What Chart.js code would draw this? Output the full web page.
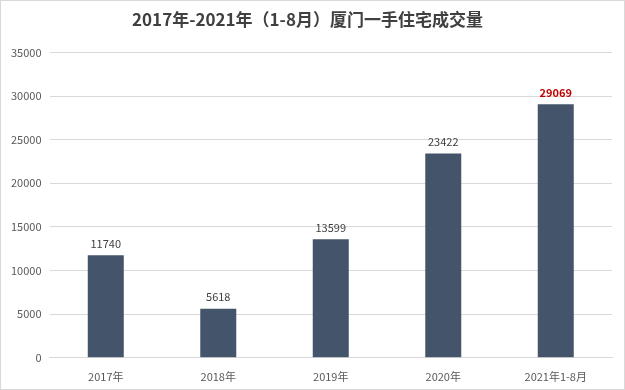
<!DOCTYPE html>
<html>
<head>
<meta charset="utf-8">
<script src="https://cdn.jsdelivr.net/npm/chart.js@4"></script>
<style>
  html, body { margin: 0; padding: 0; background: #fff; }
  .wrap { width: 623px; height: 388px; border: 1px solid #d9d9d9; position: relative; }
</style>
</head>
<body>
<div class="wrap"><canvas id="chart" width="623" height="388"></canvas></div>
<script>
const categories = ['2017年', '2018年', '2019年', '2020年', '2021年1-8月']
const volumes = [11740, 5618, 13599, 23422, 29069]
const yTicks = [0, 5000, 10000, 15000, 20000, 25000, 30000, 35000]

const fontFamily = '"Noto Sans CJK SC", "Open Sans", sans-serif'

// value labels above each bar, last one highlighted in red
const barLabels = {
  id: 'barLabels',
  afterDatasetsDraw(chart) {
    const ctx = chart.ctx
    const meta = chart.getDatasetMeta(0)
    ctx.save()
    ctx.textAlign = 'center'
    ctx.textBaseline = 'bottom'
    meta.data.forEach((bar, i) => {
      const last = i === volumes.length - 1
      ctx.fillStyle = last ? '#c00000' : '#404040'
      ctx.font = (last ? 'bold ' : '') + '11px ' + fontFamily
      ctx.fillText(String(volumes[i]), bar.x, bar.y - 6)
    })
    ctx.restore()
  }
}

var chart = new Chart(document.getElementById('chart'), {
  type: 'bar',
  data: {
    labels: categories,
    datasets: [{
      data: volumes,
      backgroundColor: '#44546a',
      barPercentage: 0.64,
      categoryPercentage: 0.5
    }]
  },
  options: {
    responsive: false,
    animation: false,
    layout: { padding: { left: 2, right: 12, top: 0, bottom: 2 } },
    plugins: {
      legend: { display: false },
      tooltip: { enabled: false },
      title: {
        display: true,
        text: '2017年-2021年（1-8月）厦门一手住宅成交量',
        color: '#404040',
        font: { family: fontFamily, size: 17, weight: 'bold' },
        padding: { top: 8, bottom: 23 }
      }
    },
    scales: {
      x: {
        grid: { display: false },
        border: { color: '#d9d9d9' },
        ticks: { color: '#595959', font: { family: fontFamily, size: 11 }, padding: 4 }
      },
      y: {
        min: 0,
        max: 35000,
        afterBuildTicks: axis => { axis.ticks = yTicks.map(v => ({ value: v })) },
        grid: { color: '#d9d9d9', drawTicks: false },
        border: { display: false },
        ticks: {
          color: '#595959',
          font: { family: fontFamily, size: 11 },
          padding: 8,
          callback: v => String(v)
        }
      }
    }
  },
  plugins: [barLabels]
})
</script>
</body>
</html>
